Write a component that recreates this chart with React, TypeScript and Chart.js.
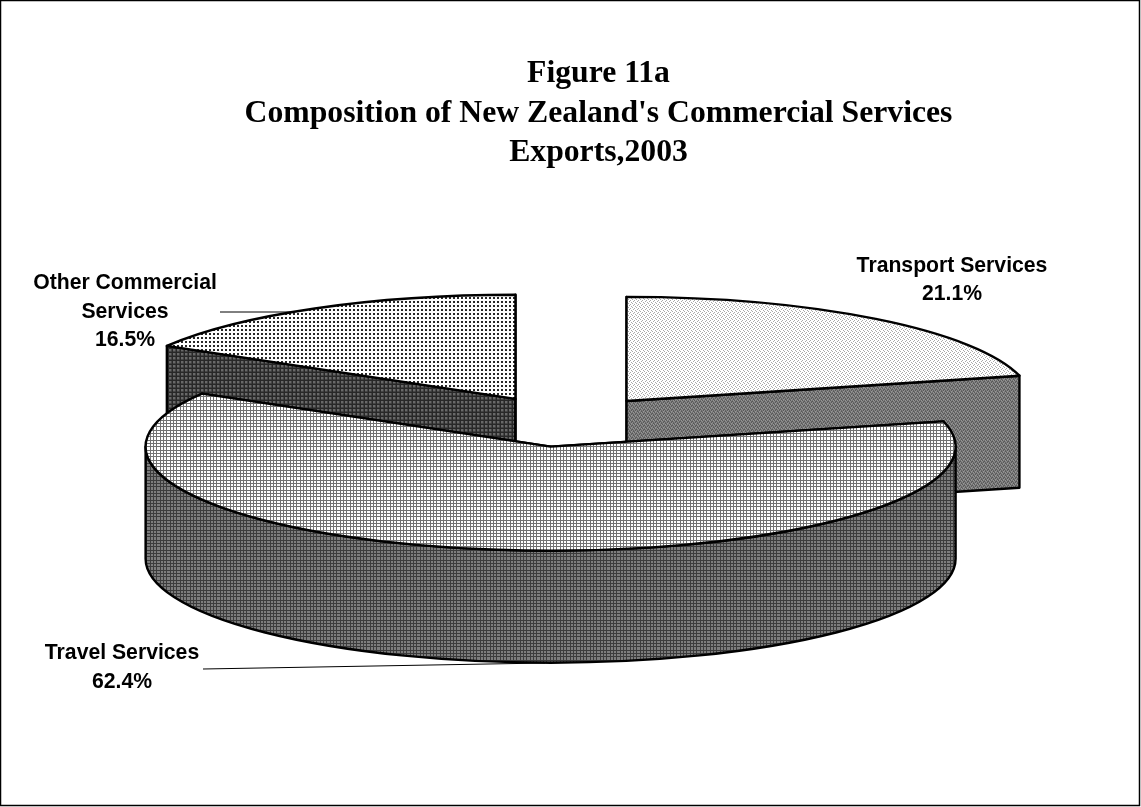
import React, { useEffect, useRef } from "react";
import { Chart, registerables } from "chart.js";

Chart.register(...registerables);

const titleLines = ["Figure 11a", "Composition of New Zealand's Commercial Services", "Exports,2003"];
const categories = ["Transport Services", "Travel Services", "Other Commercial Services"];
const shares = [21.1, 62.4, 16.5];
const labelLines = [["Transport Services"], ["Travel Services"], ["Other Commercial", "Services"]];
const labelAnchors = [[952, 266], [122, 653.5], [125, 283.5]];
const leaderLines = [null, [[203, 669], [545, 663]], [[220, 312], [300, 312]]];

const W = 1141, H = 807;
const CX = 565, CY = 421.2, RADIUS = 405, SQUASH = 0.257, DEPTH = 112, EXPLODE = 100;

function tile(rows: number[][]) {
  const c = document.createElement("canvas");
  c.height = rows.length;
  c.width = rows[0].length;
  const x = c.getContext("2d")!;
  rows.forEach((r, j) => r.forEach((v, i) => {
    x.fillStyle = `rgb(${v},${v},${v})`;
    x.fillRect(i, j, 1, 1);
  }));
  return x.createPattern(c, "repeat")!;
}

// Ten-pixel grid tile with lines every 3, 3 and 4 pixels.
function gridRows(line: number, cell: number) {
  const on = [0, 3, 6];
  const rows: number[][] = [];
  for (let j = 0; j < 10; j++) {
    const r: number[] = [];
    for (let i = 0; i < 10; i++) r.push(on.includes(i) || on.includes(j) ? line : cell);
    rows.push(r);
  }
  return rows;
}

const topTiles = [
  [[255, 255, 170, 255], [255, 170, 255, 255], [255, 255, 255, 170], [170, 255, 255, 255]],
  gridRows(115, 255),
  [[255, 255, 255, 255], [255, 40, 40, 255], [255, 40, 40, 255], [255, 255, 255, 255]],
];
const sideTiles = [
  [[110, 150, 90, 140], [90, 130, 140, 100], [140, 100, 130, 90], [130, 90, 110, 150]],
  gridRows(60, 125),
  [[40, 40, 40, 40], [40, 105, 105, 70], [40, 105, 105, 70], [40, 70, 70, 60]],
];

export default function App() {
  const ref = useRef<HTMLCanvasElement>(null);
  useEffect(() => {
    document.body.style.margin = "0";
    const tops = topTiles.map(tile);
    const sides = sideTiles.map(tile);

    const pie3d = {
      id: "pie3d",
      beforeDatasetsDraw(chart: any) {
        const ctx: CanvasRenderingContext2D = chart.ctx;
        const arcs = chart.getDatasetMeta(0).data.map((el: any, i: number) => ({ el, i }));
        const mid = (a: any) => (a.el.startAngle + a.el.endAngle) / 2;
        arcs.sort((a: any, b: any) => Math.sin(mid(a)) - Math.sin(mid(b)));

        ctx.save();
        ctx.strokeStyle = "#000";
        ctx.lineWidth = 1;
        leaderLines.forEach((l) => {
          if (!l) return;
          ctx.beginPath();
          ctx.moveTo(l[0][0], l[0][1]);
          ctx.lineTo(l[1][0], l[1][1]);
          ctx.stroke();
        });
        ctx.restore();

        arcs.forEach(({ el, i }: any) => {
          const m = mid({ el });
          const x = CX + Math.cos(m) * EXPLODE;
          const y = CY + Math.sin(m) * EXPLODE * SQUASH;
          const R = el.outerRadius;
          const r = R * SQUASH;
          const a0 = el.startAngle, a1 = el.endAngle;

          ctx.save();
          ctx.lineWidth = 2.4;
          ctx.strokeStyle = "#000";
          ctx.lineJoin = "round";
          sides[i].setTransform(new DOMMatrix());

          [a0, a1].forEach((a) => {
            const px = x + R * Math.cos(a), py = y + r * Math.sin(a);
            ctx.beginPath();
            ctx.moveTo(x, y);
            ctx.lineTo(px, py);
            ctx.lineTo(px, py + DEPTH);
            ctx.lineTo(x, y + DEPTH);
            ctx.closePath();
            ctx.fillStyle = sides[i];
            ctx.fill();
            ctx.stroke();
          });

          const w0 = Math.max(a0, 0), w1 = Math.min(a1, Math.PI);
          if (w1 > w0) {
            ctx.beginPath();
            ctx.ellipse(x, y, R, r, 0, w0, w1);
            ctx.ellipse(x, y + DEPTH, R, r, 0, w1, w0, true);
            ctx.closePath();
            ctx.fillStyle = sides[i];
            ctx.fill();
            ctx.stroke();
          }

          ctx.save();
          ctx.translate(x, y);
          ctx.scale(1, SQUASH);
          ctx.translate(-el.x, -el.y);
          tops[i].setTransform(ctx.getTransform().inverse());
          el.draw(ctx);
          ctx.restore();

          ctx.beginPath();
          ctx.moveTo(x, y);
          ctx.ellipse(x, y, R, r, 0, a0, a1);
          ctx.closePath();
          ctx.stroke();
          ctx.restore();
        });

        ctx.save();
        ctx.fillStyle = "#000";
        ctx.textAlign = "center";
        ctx.textBaseline = "middle";
        ctx.font = "bold 21.2px 'Liberation Sans'";
        categories.forEach((_, i) => {
          const [ax, ay] = labelAnchors[i];
          [...labelLines[i], `${shares[i].toFixed(1)}%`].forEach((t, k) => ctx.fillText(t, ax, ay + k * 28.5));
        });
        ctx.restore();

        ctx.save();
        ctx.strokeStyle = "#000";
        ctx.lineWidth = 1.5;
        ctx.strokeRect(0.5, 0.5, W - 2, H - 2);
        ctx.restore();
        return false;
      },
    };

    const chart = new Chart(ref.current!, {
      type: "pie",
      data: {
        labels: categories,
        datasets: [{
          data: shares,
          radius: RADIUS,
          backgroundColor: tops,
          borderWidth: 0,
        } as any],
      },
      options: {
        responsive: false,
        animation: false,
        layout: { padding: { left: 56 } },
        plugins: {
          legend: { display: false },
          tooltip: { enabled: false },
          title: {
            display: true,
            text: titleLines,
            color: "#000",
            font: { family: "'Liberation Serif'", size: 31.7, weight: "bold", lineHeight: 1.246 },
            padding: { top: 54.5, bottom: 10 },
          },
        },
      },
      plugins: [pie3d],
    } as any);
    return () => chart.destroy();
  }, []);
  return <canvas ref={ref} width={W} height={H} style={{ display: "block" }} />;
}
